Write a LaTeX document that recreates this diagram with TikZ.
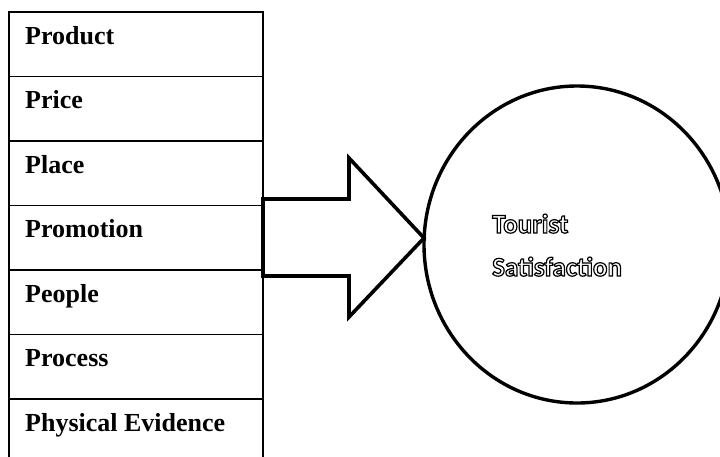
\documentclass[tikz,border=0pt]{standalone}
\usepackage{fontspec}
\setmainfont{Liberation Serif}
\newfontfamily\calfont{Carlito}
\usepackage{tikz}
\usetikzlibrary{shapes.geometric,positioning}
\newcommand{\outlinetxt}[1]{{\color{white}\special{pdf:literal direct 0 G 2 Tr 1.2 w}#1\special{pdf:literal direct 0 Tr}}}

\begin{document}
\begin{tikzpicture}[x=1pt,y=-1pt,
	cell/.style={font=\bfseries\fontsize{26}{30}\selectfont,anchor=base west,inner sep=0pt},
	sat/.style={ellipse,draw,line width=3.4pt,minimum width=306pt,minimum height=317pt,inner sep=0pt},
	outl/.style={font=\calfont\bfseries\fontsize{27}{31}\selectfont,anchor=base west,inner sep=0pt}]
	\clip (0,0) rectangle (720,456);
	% table of the 7 Ps
	\foreach \nm/\txt [count=\i] in {prod/Product,price/Price,place/Place,promo/Promotion,people/People,proc/Process,phys/Physical Evidence}
	{\draw[line width=1.6pt] (9,{12+64.5*(\i-1)}) rectangle (263,{12+64.5*\i});
	 \node[cell] (\nm) at (25,{44+64.5*(\i-1)}) {\txt};}
	% circle
	\node[sat] (tour) at (577,244.5) {};
	\node[outl] (tl1) at (492,233) {\outlinetxt{Tourist}};
	\node[outl] (tl2) at (492,276) {\outlinetxt{Satisfaction}};
	% big arrow
	\coordinate (tip) at (424,238);
	\draw[line width=3.6pt,line join=miter] (263,199) -- (349,199) -- (349,158) -- (tip) -- (349,317) -- (349,276) -- (263,276) -- cycle;
\end{tikzpicture}
\end{document}
